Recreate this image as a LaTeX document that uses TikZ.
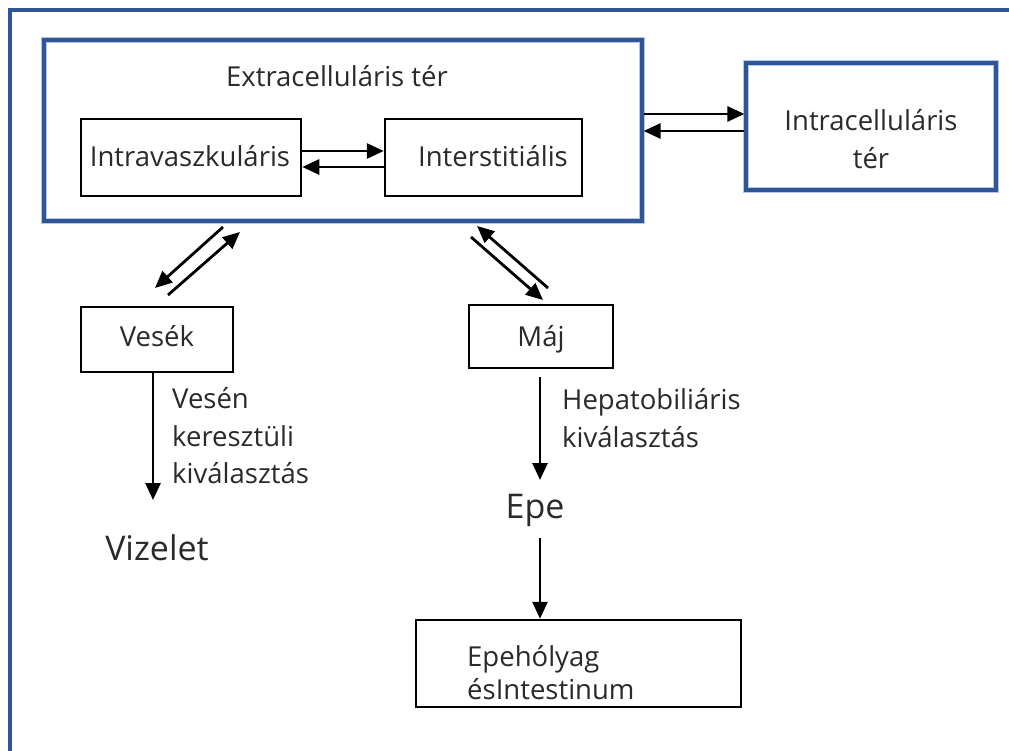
\documentclass[tikz,border=0pt]{standalone}
\usepackage{fontspec}
\setmainfont{Open Sans}
\usetikzlibrary{arrows.meta}
\definecolor{frameblue}{HTML}{2F5597}
\definecolor{shadowblue}{HTML}{B4C7E7}
\definecolor{txt}{HTML}{2A2A2A}
\tikzset{
  blackbox/.style={draw=black, line width=2.5pt, minimum width=#1, inner sep=0pt},
  arr/.style={line width=2.8pt, -{Triangle[length=17pt,width=15pt]}},
  lbl/.style={font=\fontsize{27.5}{37.5}\selectfont, text=txt, inner sep=0pt},
  biglbl/.style={font=\fontsize{34}{40}\selectfont, text=txt, inner sep=0pt},
}
\begin{document}
\begin{tikzpicture}[x=1pt,y=-1pt]
\useasboundingbox (0,0) rectangle (1009,751);
\fill[white] (0,0) rectangle (1009,751);
% outer frame
\draw[frameblue, line width=4pt] (9.5,751) -- (9.5,10) -- (1009,10);
% extracellular box
\draw[shadowblue, line width=5.5pt] (44,40) rectangle (642,221);
\node[draw=frameblue, line width=3.2pt, minimum width=598pt, minimum height=181pt, inner sep=0pt] (ext) at (343,130.5) {};
\node[lbl] (extlbl) at (337,76) {Extracelluláris tér};
% intracellular box
\draw[shadowblue, line width=5.5pt] (746,63) rectangle (996,190);
\node[draw=frameblue, line width=3.2pt, minimum width=250pt, minimum height=127pt, inner sep=0pt] (icell) at (871,126.5) {};
\node[lbl, align=center] (icelllbl) at (871,139) {Intracelluláris\\tér};
% inner boxes
\node[blackbox=220pt, minimum height=77pt] (intrav) at (191,157.5) {};
\node[lbl] at (190,156) {Intravaszkuláris};
\node[blackbox=197pt, minimum height=77pt] (interst) at (483.5,157.5) {};
\node[lbl] at (493,156) {Interstitiális};
% organ boxes
\node[blackbox=152pt, minimum height=65pt] (vese) at (157,339.5) {};
\node[lbl] at (157,336) {Vesék};
\node[blackbox=144pt, minimum height=63pt] (maj) at (541,336.5) {};
\node[lbl] at (541,339) {Máj};
\node[blackbox=325pt, minimum height=87pt] (gall) at (578.5,663.5) {};
\node[lbl, anchor=west, align=left, font=\fontsize{27.5}{33}\selectfont] (galllbl) at (467,673) {Epehólyag\\ésIntestinum};
% free labels
\node[lbl, anchor=west, align=left] (veselbl) at (172,436) {Vesén\\keresztüli\\kiválasztás};
\node[lbl, anchor=west, align=left] (majlbl) at (562,418) {Hepatobiliáris\\kiválasztás};
\node[biglbl] (viz) at (157,548) {Vizelet};
\node[biglbl] (epe) at (535,510) {Epe};
% horizontal arrows
\draw[arr] (intrav.east |- 0,151) -- (interst.west |- 0,151);
\draw[arr] (interst.west |- 0,167) -- (intrav.east |- 0,167);
\draw[arr] (ext.east |- 0,114) -- (icell.west |- 0,114);
\draw[arr] (icell.west |- 0,131) -- (ext.east |- 0,131);
% diagonal arrows
\coordinate (v1) at (223,227); \coordinate (v2) at (155,288);
\coordinate (v3) at (168,295); \coordinate (v4) at (240,232);
\draw[arr] (v1) -- (v2);
\draw[arr] (v3) -- (v4);
\coordinate (m1) at (471,237); \coordinate (m2) at (543,300);
\coordinate (m3) at (548,288); \coordinate (m4) at (477,226);
\draw[arr] (m1) -- (m2);
\draw[arr] (m3) -- (m4);
% vertical arrows
\coordinate (vizt) at (153,500);
\draw[arr] (vese.south -| 153,0) -- (vizt);
\coordinate (majb) at (540,377); \coordinate (epet) at (540,480);
\draw[arr] (majb) -- (epet);
\coordinate (epeb) at (540,538);
\draw[arr] (epeb) -- (gall.north -| 540,0);
\end{tikzpicture}
\end{document}
